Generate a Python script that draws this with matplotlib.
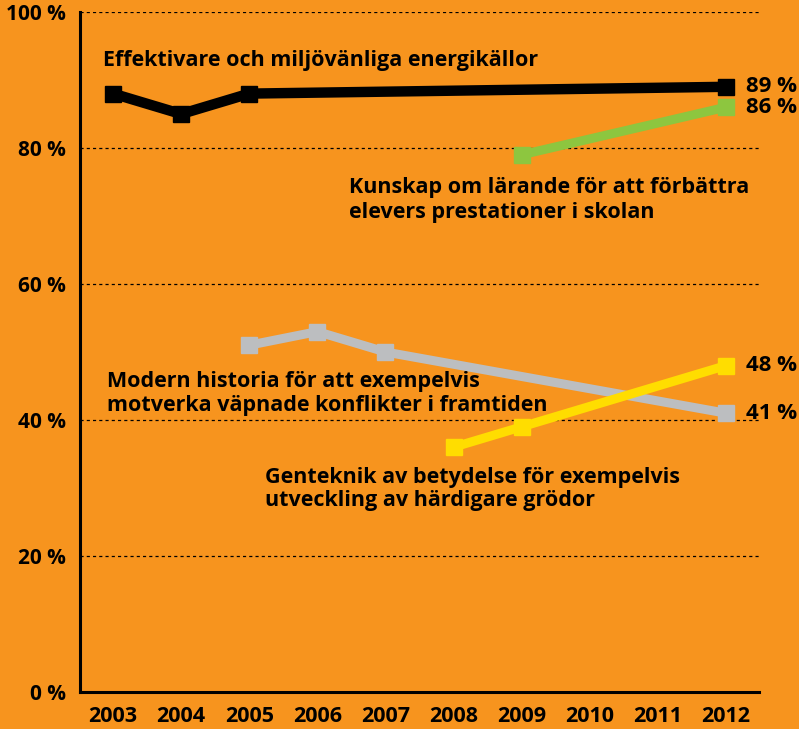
import matplotlib
matplotlib.use("Agg")
import matplotlib.pyplot as plt

plt.rcParams['font.family'] = ['Open Sans', 'DejaVu Sans']
plt.rcParams['font.weight'] = 'bold'

years = [2003, 2004, 2005, 2006, 2007, 2008, 2009, 2010, 2011, 2012]

energy_years = [2003, 2004, 2005, 2012]
energy_vals = [88, 85, 88, 89]

learning_years = [2009, 2012]
learning_vals = [79, 86]

history_years = [2005, 2006, 2007, 2012]
history_vals = [51, 53, 50, 41]

genetics_years = [2008, 2009, 2012]
genetics_vals = [36, 39, 48]

y_ticks = [0, 20, 40, 60, 80, 100]
y_tick_labels = ['0 %', '20 %', '40 %', '60 %', '80 %', '100 %']

labels = {
    'energy': 'Effektivare och miljövänliga energikällor',
    'learning': 'Kunskap om lärande för att förbättra\nelevers prestationer i skolan',
    'history': 'Modern historia för att exempelvis\nmotverka väpnade konflikter i framtiden',
    'genetics': 'Genteknik av betydelse för exempelvis\nutveckling av härdigare grödor',
}

BG = '#F7941E'
W, H = 799, 729
fig = plt.figure(figsize=(W / 100, H / 100), dpi=100, facecolor=BG)
ax = fig.add_axes([80 / W, (H - 692) / H, 679 / W, 680 / H])
ax.set_facecolor(BG)

ax.set_xlim(2002.515, 2012.485)
ax.set_ylim(0, 100)

for y in y_ticks[1:]:
    ax.axhline(y, color='black', lw=0.9, ls=(0, (2.5, 2.5)), zorder=1)

series = [
    (energy_years, energy_vals, 'black', 7.5, 'energy'),
    (learning_years, learning_vals, '#8DC63F', 6.5, 'learning'),
    (history_years, history_vals, '#BCBEC0', 6.5, 'history'),
    (genetics_years, genetics_vals, '#FFDD00', 6.5, 'genetics'),
]
for xs, ys, c, lw, key in series:
    ax.plot(xs, ys, color=c, lw=lw, marker='s', ms=12, mec=c, mfc=c,
            solid_joinstyle='miter', zorder=3 if key == 'energy' else 2)
    ax.text(xs[-1] + 0.29, ys[-1], f'{ys[-1]} %', fontsize=16, fontweight='bold',
            ha='left', va='center', color='black')

FS = 15.5
ax.text(2002.85, 92.9, labels['energy'], fontsize=FS, fontweight='bold', ha='left', va='center')
ax.text(2006.47, 72.35, labels['learning'], fontsize=FS, fontweight='bold', ha='left', va='center', linespacing=1.27)
ax.text(2002.91, 43.9, labels['history'], fontsize=FS, fontweight='bold', ha='left', va='center', linespacing=1.22)
ax.text(2005.23, 29.9, labels['genetics'], fontsize=FS, fontweight='bold', ha='left', va='center', linespacing=1.13)

for s in ['top', 'right']:
    ax.spines[s].set_visible(False)
for s in ['left', 'bottom']:
    ax.spines[s].set_linewidth(2.2)
    ax.spines[s].set_color('black')

ax.set_yticks(y_ticks)
ax.set_yticklabels(y_tick_labels, fontsize=15, fontweight='bold')
ax.set_xticks(years)
ax.set_xticklabels([str(y) for y in years], fontsize=15.5, fontweight='bold')
ax.tick_params(axis='both', length=0)
ax.tick_params(axis='y', pad=10)
ax.tick_params(axis='x', pad=10)

fig.savefig('out.png', dpi=100, facecolor=BG)
